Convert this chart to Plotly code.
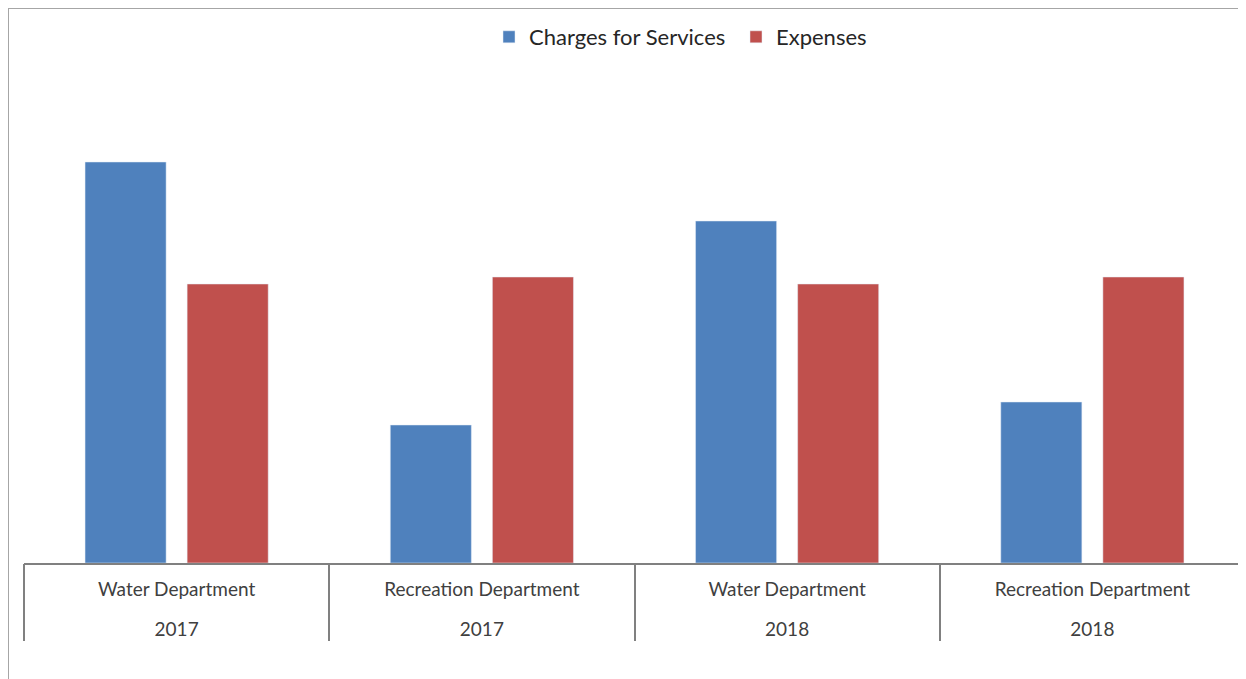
import plotly.graph_objects as go

departments = ["Water Department", "Recreation Department", "Water Department", "Recreation Department"]
years = ["2017", "2017", "2018", "2018"]
charges = [401, 138, 342, 161]
expenses = [279, 286, 279, 286]

cats = [f"{d} {y}" for d, y in zip(departments, years)]
positions = list(range(len(cats)))
dividers = [p - 0.5 for p in positions] + [positions[-1] + 0.5]

# page body has ~8px default margin; compensate
OX, OY = 9, 8
L, T = 25 - OX, 63 - OY
PW, PH = 1221, 500
W = L + PW
H = 679 - OY
B = H - T - PH

fig = go.Figure()
fig.add_trace(go.Bar(name="Charges for Services", x=cats, y=charges, marker_color="#4F81BD"))
fig.add_trace(go.Bar(name="Expenses", x=cats, y=expenses, marker_color="#C0504D"))
# invisible carrier traces so the helper axes get drawn
fig.add_trace(go.Scatter(x=[dividers[0], dividers[-1]], y=[0, 0], mode="none", xaxis="x2",
                         showlegend=False, hoverinfo="skip"))
fig.add_trace(go.Scatter(x=[dividers[0], dividers[-1]], y=[0, 0], mode="none", xaxis="x3",
                         showlegend=False, hoverinfo="skip"))

fig.update_layout(
    width=W, height=H,
    margin=dict(l=L, r=0, t=T, b=B),
    paper_bgcolor="white", plot_bgcolor="white",
    font=dict(family="Lato", size=19, color="#404040"),
    barmode="group", bargap=0.331, bargroupgap=0.206,
    showlegend=True,
    legend=dict(orientation="h", x=(737 - 25) / PW, xanchor="center", y=(563 - 37) / PH, yanchor="middle",
                font=dict(size=22, color="#262626"), traceorder="normal",
                entrywidth=202, entrywidthmode="pixels"),
    xaxis=dict(type="category", tickvals=cats, ticktext=departments, showline=True, linecolor="#808080",
               linewidth=1.5, ticks="", showgrid=False, zeroline=False, range=[-0.5, 3.5],
               ticklabelstandoff=8),
    xaxis2=dict(type="linear", overlaying="x", anchor="y", side="bottom", range=[dividers[0], dividers[-1]],
                tickvals=dividers, ticks="outside", ticklen=77, tickwidth=1.5,
                tickcolor="#808080", showticklabels=False, showgrid=False, zeroline=False, showline=False),
    xaxis3=dict(type="linear", overlaying="x", anchor="y", side="bottom", range=[dividers[0], dividers[-1]],
                tickvals=positions, ticktext=years, ticks="", showgrid=False, zeroline=False,
                showline=False, ticklabelstandoff=53),
    yaxis=dict(range=[0, 500], visible=False),
    shapes=[dict(type="rect", xref="paper", yref="paper",
                 x0=(9 - 25) / PW, x1=1.02, y0=-0.3, y1=(563 - 8) / PH,
                 line=dict(color="#A6A6A6", width=2), fillcolor="rgba(0,0,0,0)", layer="below")],
)
fig.write_html("out.html")
